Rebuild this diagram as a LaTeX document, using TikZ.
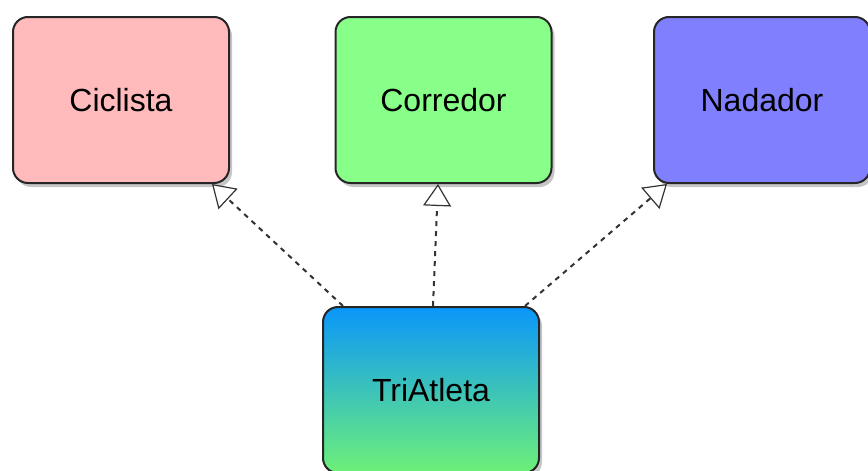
\documentclass[tikz,border=0pt]{standalone}
\usepackage{fontspec}
\setmainfont{Liberation Sans}
\usetikzlibrary{arrows.meta,shadows}
\begin{document}
\begin{tikzpicture}[x=0.5pt,y=-0.5pt,
    klasse/.style={draw=black!85,line width=1pt,rounded corners=7.5pt,
      minimum width=108pt,minimum height=83pt,
      font=\fontsize{16}{19}\selectfont,
      drop shadow={shadow xshift=1.5pt,shadow yshift=-2pt,opacity=0.45}},
    realiza/.style={draw=black!80,line width=1pt,dash pattern=on 2.5pt off 2.5pt,
      -{Triangle[length=11pt,width=14pt,fill=white,line width=0.6pt,sep=0pt]}}]
    \useasboundingbox (0,0) rectangle (868,471);
    \node[klasse,fill={rgb,255:red,255;green,187;blue,187}] (cic) at (121,100) {Ciclista};
    \node[klasse,fill={rgb,255:red,136;green,255;blue,136}] (cor) at (443.5,100) {Corredor};
    \node[klasse,fill={rgb,255:red,128;green,128;blue,255}] (nad) at (762,100) {Nadador};
    \node[klasse,top color={rgb,255:red,10;green,150;blue,250},
      bottom color={rgb,255:red,110;green,240;blue,120}] (tri) at (431,390) {TriAtleta};
    \draw[realiza] ([xshift=-44pt]tri.north) -- ([xshift=45.5pt]cic.south);
    \draw[realiza] ([xshift=1pt]tri.north) -- ([xshift=-2.75pt]cor.south);
    \draw[realiza] ([xshift=47pt]tri.north) -- ([xshift=-47.5pt]nad.south);
\end{tikzpicture}
\end{document}
